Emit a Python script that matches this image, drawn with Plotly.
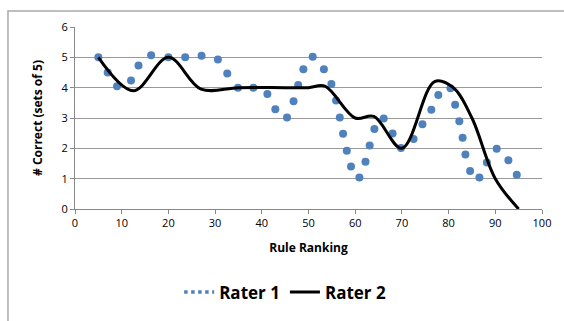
import plotly.graph_objects as go

rater1_x = [5, 7, 9, 12, 13.6, 16.3, 20, 23.6, 27.1, 30.6, 32.6, 34.9, 38.2, 41.2, 42.9,
            45.4, 46.8, 47.8, 48.9, 50.9, 53.3, 54.9, 55.9, 56.7, 57.4, 58.2, 59.1, 60.9,
            62.2, 63.1, 64.1, 66.1, 68.0, 69.8, 72.5, 74.4, 76.3, 77.8, 80.4, 81.4, 82.3,
            83.0, 83.6, 84.6, 86.6, 88.2, 90.3, 92.8, 94.6]
rater1_y = [5.0, 4.5, 4.05, 4.24, 4.73, 5.07, 5.0, 5.0, 5.05, 4.93, 4.47, 4.0, 4.0, 3.79, 3.29,
            3.02, 3.55, 4.09, 4.61, 5.02, 4.61, 4.12, 3.58, 3.02, 2.48, 1.92, 1.40, 1.04,
            1.56, 2.09, 2.64, 2.98, 2.49, 2.01, 2.31, 2.79, 3.27, 3.76, 3.98, 3.44, 2.89,
            2.35, 1.80, 1.25, 1.04, 1.53, 1.99, 1.61, 1.13]

rater2_x = [5, 12.5, 20, 27, 35, 45, 50, 53.5, 60, 64, 70, 77, 81, 85, 90, 95]
rater2_y = [5.0, 3.9, 5.0, 3.95, 4.0, 4.0, 4.0, 4.05, 3.0, 3.05, 2.0, 4.2, 4.0, 3.0, 1.0, 0.0]

x_ticks = [0, 10, 20, 30, 40, 50, 60, 70, 80, 90, 100]
y_ticks = [0, 1, 2, 3, 4, 5, 6]

BLUE = "#4F81BD"
FONT = "Open Sans"

fig = go.Figure()
fig.add_trace(go.Scatter(x=rater1_x, y=rater1_y, mode="markers", name="Rater 1",
                         marker=dict(color=BLUE, size=8), showlegend=False))
fig.add_trace(go.Scatter(x=rater2_x, y=rater2_y, mode="lines", name="Rater 2",
                         line=dict(color="black", width=3, shape="spline", smoothing=1),
                         showlegend=False))
# legend entries
fig.add_trace(go.Scatter(x=[None], y=[None], mode="lines", name="<b>Rater 1</b>",
                         line=dict(color=BLUE, width=3.5, dash="dot")))
fig.add_trace(go.Scatter(x=[None], y=[None], mode="lines", name="<b>Rater 2</b>",
                         line=dict(color="black", width=3)))

fig.update_layout(
    width=564, height=321,
    margin=dict(l=75, r=22, t=27, b=111),
    paper_bgcolor="white", plot_bgcolor="white",
    font=dict(family=FONT, size=11, color="black"),
    xaxis=dict(range=[0, 100], tickvals=x_ticks, showgrid=False, zeroline=False,
               showline=True, linecolor="#888888", linewidth=1,
               ticks="outside", ticklen=4, tickcolor="#888888",
               tickfont=dict(color="black"),
               title=dict(text="<b>Rule Ranking</b>", font=dict(size=12), standoff=14)),
    yaxis=dict(range=[0, 6], tickvals=y_ticks, showgrid=True, gridcolor="#999999",
               gridwidth=1, zeroline=False, showline=True, linecolor="#888888",
               linewidth=1, ticks="outside", ticklen=4, tickcolor="#888888",
               tickfont=dict(color="black"),
               title=dict(text="<b># Correct (sets of 5)</b>", font=dict(size=12), standoff=16)),
    legend=dict(orientation="h", x=0.45, xanchor="center", y=-0.45, yanchor="middle",
                font=dict(size=17, family=FONT), itemwidth=30, bgcolor="rgba(0,0,0,0)"),
    shapes=[dict(type="rect", xref="paper", yref="paper",
                 x0=-0.1435, x1=1.1, y0=-0.7, y1=1.0874,
                 line=dict(color="#AAAAAA", width=1.5), layer="below")],
)

fig.write_html("out.html", config={"staticPlot": True, "displayModeBar": False},
               post_script="document.body.style.margin='0';document.body.style.padding='0';")
